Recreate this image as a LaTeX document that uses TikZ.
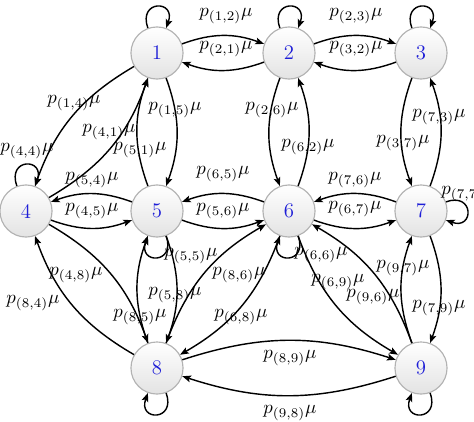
\documentclass[tikz,border=0pt]{standalone}
\usetikzlibrary{arrows.meta}
\definecolor{numblue}{RGB}{30,30,215}
\begin{document}
\begin{tikzpicture}[x=0.53pt,y=0.53pt,
  state/.style={circle, minimum size=27.6pt, inner sep=0pt, draw=gray!60, line width=0.6pt,
    top color=white, bottom color=gray!22, text=numblue, font=\fontsize{11}{13}\selectfont},
  arr/.style={-{Stealth[length=4.6pt,width=3.6pt,inset=1pt]}, line width=0.75pt},
  lbl/.style={inner sep=0pt},
  loopup/.style={out=110,in=70,distance=16pt},
  loopdown/.style={out=-70,in=-110,distance=16pt},
  loopright/.style={out=20,in=-20,distance=16pt}]
\useasboundingbox (0,0) rectangle (474,421);
% states
\node[state] (n1) at (157,368) {1};
\node[state] (n2) at (289,368) {2};
\node[state] (n3) at (421,368) {3};
\node[state] (n4) at (26,210) {4};
\node[state] (n5) at (157,210) {5};
\node[state] (n6) at (289,210) {6};
\node[state] (n7) at (421,210) {7};
\node[state] (n8) at (157,53) {8};
\node[state] (n9) at (421,53) {9};
% loops
\draw[arr] (n1) to[loopup] (n1);
\draw[arr] (n2) to[loopup] (n2);
\draw[arr] (n3) to[loopup] (n3);
\draw[arr] (n4) to[loopup] (n4);
\draw[arr] (n5) to[loopdown] (n5);
\draw[arr] (n6) to[loopdown] (n6);
\draw[arr] (n8) to[loopdown] (n8);
\draw[arr] (n9) to[loopdown] (n9);
\draw[arr] (n7) to[loopright] (n7);
% horizontal
\draw[arr] (n1) to[bend left=20] (n2);
\draw[arr] (n2) to[bend left=20] (n1);
\draw[arr] (n2) to[bend left=20] (n3);
\draw[arr] (n3) to[bend left=20] (n2);
\draw[arr] (n5) to[bend right=20] (n4);
\draw[arr] (n4) to[bend right=20] (n5);
\draw[arr] (n6) to[bend right=20] (n5);
\draw[arr] (n5) to[bend right=20] (n6);
\draw[arr] (n7) to[bend right=20] (n6);
\draw[arr] (n6) to[bend right=20] (n7);
\draw[arr] (n8) to[bend left=18] (n9);
\draw[arr] (n9) to[bend left=18] (n8);
% vertical
\draw[arr] (n1) to[bend left=20] (n5);
\draw[arr] (n5) to[bend left=20] (n1);
\draw[arr] (n2) to[bend right=20] (n6);
\draw[arr] (n6) to[bend right=20] (n2);
\draw[arr] (n3) to[bend right=20] (n7);
\draw[arr] (n7) to[bend right=20] (n3);
\draw[arr] (n5) to[bend left=20] (n8);
\draw[arr] (n8) to[bend left=20] (n5);
\draw[arr] (n7) to[bend left=20] (n9);
\draw[arr] (n9) to[bend left=20] (n7);
% diagonals
\draw[arr] (n1) to[bend right=20] (n4);
\draw[arr] (n4) to[bend right=20] (n1);
\draw[arr] (n4) to[bend left=20] (n8);
\draw[arr] (n8) to[bend left=20] (n4);
\draw[arr] (n8) to[bend left=20] (n6);
\draw[arr] (n6) to[bend left=20] (n8);
\draw[arr] (n6) to[bend right=20] (n9);
\draw[arr] (n9) to[bend right=20] (n6);
% labels
\node[lbl] (l12) at (226,405) {$p_{(1,2)}\mu$};
\node[lbl] (l21) at (226,372) {$p_{(2,1)}\mu$};
\node[lbl] (l23) at (356,405) {$p_{(2,3)}\mu$};
\node[lbl] (l32) at (356,372) {$p_{(3,2)}\mu$};
\node[lbl] (l14) at (74,318) {$p_{(1,4)}\mu$};
\node[lbl] (l41) at (109,289) {$p_{(4,1)}\mu$};
\node[lbl] (l15) at (175,311) {$p_{(1,5)}\mu$};
\node[lbl] (l51) at (140,271) {$p_{(5,1)}\mu$};
\node[lbl] (l44) at (27,270) {$p_{(4,4)}\mu$};
\node[lbl] (l54) at (92,241) {$p_{(5,4)}\mu$};
\node[lbl] (l65) at (223,247) {$p_{(6,5)}\mu$};
\node[lbl] (l45) at (92,210) {$p_{(4,5)}\mu$};
\node[lbl] (l56) at (223,210) {$p_{(5,6)}\mu$};
\node[lbl] (l76) at (355,241) {$p_{(7,6)}\mu$};
\node[lbl] (l67) at (355,212) {$p_{(6,7)}\mu$};
\node[lbl,anchor=west] (l77) at (441,227) {$p_{(7,7)}\mu$};
\node[lbl] (l26) at (272,311) {$p_{(2,6)}\mu$};
\node[lbl] (l62) at (308,274) {$p_{(6,2)}\mu$};
\node[lbl] (l73) at (439,304) {$p_{(7,3)}\mu$};
\node[lbl] (l37) at (403,278) {$p_{(3,7)}\mu$};
\node[lbl] (l55) at (191,165) {$p_{(5,5)}\mu$};
\node[lbl] (l48) at (76,146) {$p_{(4,8)}\mu$};
\node[lbl] (l84) at (33,118) {$p_{(8,4)}\mu$};
\node[lbl] (l58) at (175,126) {$p_{(5,8)}\mu$};
\node[lbl] (l85) at (140,104) {$p_{(8,5)}\mu$};
\node[lbl] (l86) at (239,146) {$p_{(8,6)}\mu$};
\node[lbl] (l68) at (241,104) {$p_{(6,8)}\mu$};
\node[lbl] (l66) at (321,166) {$p_{(6,6)}\mu$};
\node[lbl] (l69) at (338,139) {$p_{(6,9)}\mu$};
\node[lbl] (l96) at (373,124) {$p_{(9,6)}\mu$};
\node[lbl] (l97) at (403,153) {$p_{(9,7)}\mu$};
\node[lbl] (l79) at (439,113) {$p_{(7,9)}\mu$};
\node[lbl] (l89) at (290,63) {$p_{(8,9)}\mu$};
\node[lbl] (l98) at (290,8) {$p_{(9,8)}\mu$};
\end{tikzpicture}
\end{document}
